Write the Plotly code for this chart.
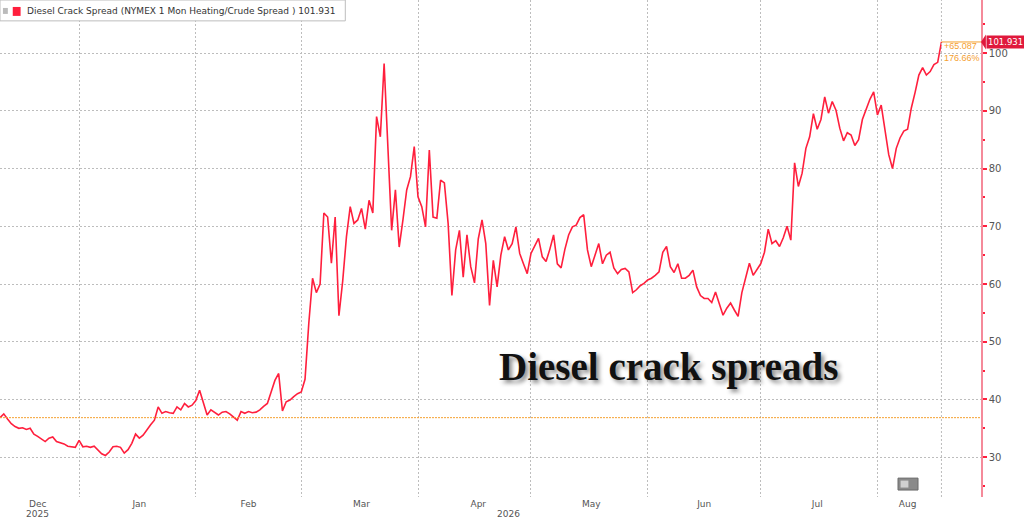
import pandas as pd
import plotly.graph_objects as go

# Diesel crack spread, daily readings from 2025-12-11
start_date = "2025-12-11"
spread = [
    36.844, 37.5, 36.6, 35.8, 35.3, 35.0, 35.1, 34.8, 35.0, 34.0,
    33.6, 33.1, 32.7, 33.3, 33.5, 32.7, 32.5, 32.3, 31.9, 31.8,
    31.7, 32.9, 31.8, 31.9, 31.7, 31.9, 31.3, 30.6, 30.3, 30.9,
    31.8, 31.9, 31.7, 30.7, 31.3, 32.4, 34.0, 33.3, 33.8, 34.8,
    35.6, 36.4, 38.7, 37.6, 37.9, 37.7, 37.6, 38.7, 38.2, 39.3,
    38.7, 39.0, 39.8, 41.6, 39.6, 37.3, 38.2, 37.8, 37.3, 37.8,
    37.9, 37.5, 37.0, 36.4, 37.9, 37.6, 37.9, 37.7, 37.8, 38.2,
    38.8, 39.3, 41.3, 43.3, 44.5, 38.0, 39.6, 39.9, 40.5, 41.0,
    41.3, 43.5, 53.2, 61.0, 58.5, 60.0, 72.3, 71.6, 63.6, 71.6,
    54.5, 60.5, 68.2, 73.4, 70.5, 71.1, 73.1, 69.5, 74.5, 72.3,
    89.0, 85.5, 98.2, 84.0, 69.3, 76.3, 66.4, 71.1, 76.3, 78.6,
    83.8, 75.1, 73.4, 69.9, 83.2, 71.6, 71.4, 78.0, 77.5, 70.5,
    58.0, 65.9, 69.3, 61.2, 68.5, 63.0, 60.2, 67.8, 71.1, 67.0,
    56.3, 64.1, 59.5, 65.0, 68.2, 65.9, 67.0, 69.9, 65.3, 63.5,
    61.8, 65.3, 66.5, 67.9, 64.7, 63.9, 66.0, 68.5, 63.5, 62.8,
    66.0, 68.5, 69.9, 70.2, 71.5, 72.0, 65.9, 63.0, 65.0, 67.0,
    63.5, 65.0, 65.5, 62.8, 61.8, 62.5, 62.7, 62.1, 58.5, 59.0,
    59.7, 60.1, 60.7, 61.0, 61.5, 62.1, 65.5, 66.5, 63.0, 62.0,
    63.5, 61.0, 61.0, 61.5, 62.4, 59.5, 58.0, 57.5, 57.5, 56.8,
    58.6, 56.6, 54.6, 55.8, 56.7, 55.5, 54.4, 58.5, 61.0, 63.6,
    61.5, 62.5, 63.5, 65.5, 69.5, 67.0, 67.5, 66.5, 68.0, 70.0,
    67.6, 81.0, 76.9, 79.2, 83.5, 85.5, 89.5, 86.8, 88.5, 92.4,
    89.6, 91.6, 90.1, 87.0, 84.8, 86.2, 85.8, 84.0, 85.0, 88.5,
    90.2, 92.0, 93.3, 89.3, 91.0, 87.0, 82.4, 80.0, 83.5, 85.3,
    86.5, 86.8, 90.5, 93.2, 96.2, 97.5, 96.2, 96.8, 98.0, 98.4,
    101.931,
]
dates = pd.date_range(start_date, periods=len(spread), freq="D")

month_starts = ["2026-01-01", "2026-02-01", "2026-03-01", "2026-04-01",
                "2026-05-01", "2026-06-01", "2026-07-01", "2026-08-01"]
month_label_dates = ["2025-12-21", "2026-01-17", "2026-02-15", "2026-03-17",
                     "2026-04-17", "2026-05-17", "2026-06-16", "2026-07-16",
                     "2026-08-09"]
month_labels = ["Dec", "Jan", "Feb", "Mar", "Apr", "May", "Jun", "Jul", "Aug"]
year_labels = [("2025-12-21", "2025"), ("2026-04-25", "2026")]

x_range = ["2025-12-11", "2026-08-28 12:00"]
y_range = [23.1, 109.2]

RED = "#ff1f3d"
ORANGE = "#f5a030"
GRID = "#bdbdbd"
TXT = "#555555"

first, last = spread[0], spread[-1]
chg = last - first
pct = chg / first * 100

fig = go.Figure()
fig.add_trace(go.Scatter(x=dates, y=spread, mode="lines",
                         line=dict(color=RED, width=1.6), showlegend=False))
# invisible trace just to carry the label axis
fig.add_trace(go.Scatter(x=[dates[0]], y=[first], xaxis="x2", mode="markers",
                         marker=dict(opacity=0), showlegend=False, hoverinfo="skip"))

fig.update_layout(
    width=1024, height=520,
    margin=dict(l=0, r=43, t=0, b=23),
    paper_bgcolor="white", plot_bgcolor="white",
    font=dict(family="DejaVu Sans", size=9, color=TXT),
    xaxis=dict(range=x_range, tickvals=month_starts, showticklabels=False,
               showgrid=True, gridcolor=GRID, griddash="2px,2px", gridwidth=1,
               zeroline=False, ticks=""),
    xaxis2=dict(range=x_range, overlaying="x", side="bottom", anchor="y",
                tickvals=month_label_dates, ticktext=month_labels,
                showgrid=False, zeroline=False, ticks="",
                tickfont=dict(family="DejaVu Sans", size=9, color=TXT)),
    yaxis=dict(range=y_range, side="right", tick0=0, dtick=10,
               showgrid=True, gridcolor=GRID, griddash="2px,2px", gridwidth=1,
               zeroline=False, showline=True, linecolor="#f58a9a", linewidth=1.5,
               ticks="outside", ticklen=4, tickcolor=RED, tickwidth=1.5,
               tickfont=dict(family="DejaVu Sans", size=10, color=TXT),
               minor=dict(dtick=5, tick0=0, ticks="outside", ticklen=2,
                          tickcolor=RED, showgrid=False)),
)

shapes = [
    # starting level
    dict(type="line", xref="paper", x0=0, x1=1, yref="y", y0=first, y1=first,
         line=dict(color=ORANGE, width=1, dash="2px,1px")),
    # last level stub
    dict(type="line", xref="x", x0=dates[-1], x1=x_range[1], yref="y", y0=last, y1=last,
         line=dict(color=ORANGE, width=1)),
    # last date marker
    dict(type="line", xref="x", x0=dates[-1], x1=dates[-1], yref="paper", y0=0, y1=1,
         line=dict(color=GRID, width=1, dash="2px,2px")),
    # legend box
    dict(type="rect", xref="paper", yref="paper", x0=0, x1=0.352, y0=0.958, y1=1.0,
         fillcolor="white", line=dict(color="#bdbdbd", width=1)),
    dict(type="rect", xref="paper", yref="paper", x0=0.003, x1=0.008, y0=0.972, y1=0.984,
         fillcolor="#bbbbbb", line=dict(width=0)),
    dict(type="rect", xref="paper", yref="paper", x0=0.013, x1=0.021, y0=0.968, y1=0.986,
         fillcolor=RED, line=dict(width=0)),
    # red value tag pointer
    dict(type="path", xref="paper", yref="y",
         path=f"M 1.0,{last} L 1.005,{last + 1.3} L 1.005,{last - 1.3} Z",
         fillcolor="#e0183c", line=dict(width=0)),
    # small toggle button
    dict(type="rect", xref="paper", yref="paper", x0=0.9154, x1=0.9358, y0=0.014, y1=0.038,
         fillcolor="#8a8a8a", line=dict(color="#6a6a6a", width=1)),
    dict(type="rect", xref="paper", yref="paper", x0=0.918, x1=0.926, y0=0.019, y1=0.033,
         fillcolor="#d0d0d0", line=dict(width=0)),
]
fig.update_layout(shapes=shapes)

annotations = [
    dict(xref="paper", yref="paper", x=0.025, y=0.977, xanchor="left", yanchor="middle",
         text=f"Diesel Crack Spread (NYMEX 1 Mon Heating/Crude Spread ) {last:.3f}",
         showarrow=False, font=dict(family="DejaVu Sans", size=9, color="#333333")),
    dict(xref="paper", yref="y", x=1.005, y=last, xanchor="left", yanchor="middle",
         text=f"{last:.3f}", showarrow=False, bgcolor="#e0183c",
         font=dict(family="DejaVu Sans", size=8.5, color="white"), borderpad=1),
    dict(xref="x", yref="paper", x=dates[-1], y=1 - 46 / 497, xanchor="left", yanchor="middle",
         text=f"+{chg:.3f}", showarrow=False, xshift=1,
         font=dict(family="Liberation Sans", size=9, color=ORANGE)),
    dict(xref="x", yref="paper", x=dates[-1], y=1 - 58 / 497, xanchor="left", yanchor="middle",
         text=f"{pct:.2f}%", showarrow=False, xshift=1,
         font=dict(family="Liberation Sans", size=9, color=ORANGE)),
    dict(xref="paper", yref="paper", x=497 / 981, y=1 - 367 / 497, xanchor="left",
         yanchor="middle", text="<b>Diesel crack spreads</b>", showarrow=False,
         font=dict(family="Liberation Serif", size=39, color="#111111",
                   shadow="3px 3px 4px rgba(0,0,0,0.45)")),
]
for d, t in year_labels:
    annotations.append(dict(xref="x", yref="paper", x=d, y=-0.035, xanchor="center",
                            yanchor="middle", text=t, showarrow=False,
                            font=dict(family="DejaVu Sans", size=9, color=TXT)))
fig.update_layout(annotations=annotations)

fig.write_html("out.html", config={"displayModeBar": False},
               post_script="document.body.style.margin='0';")
